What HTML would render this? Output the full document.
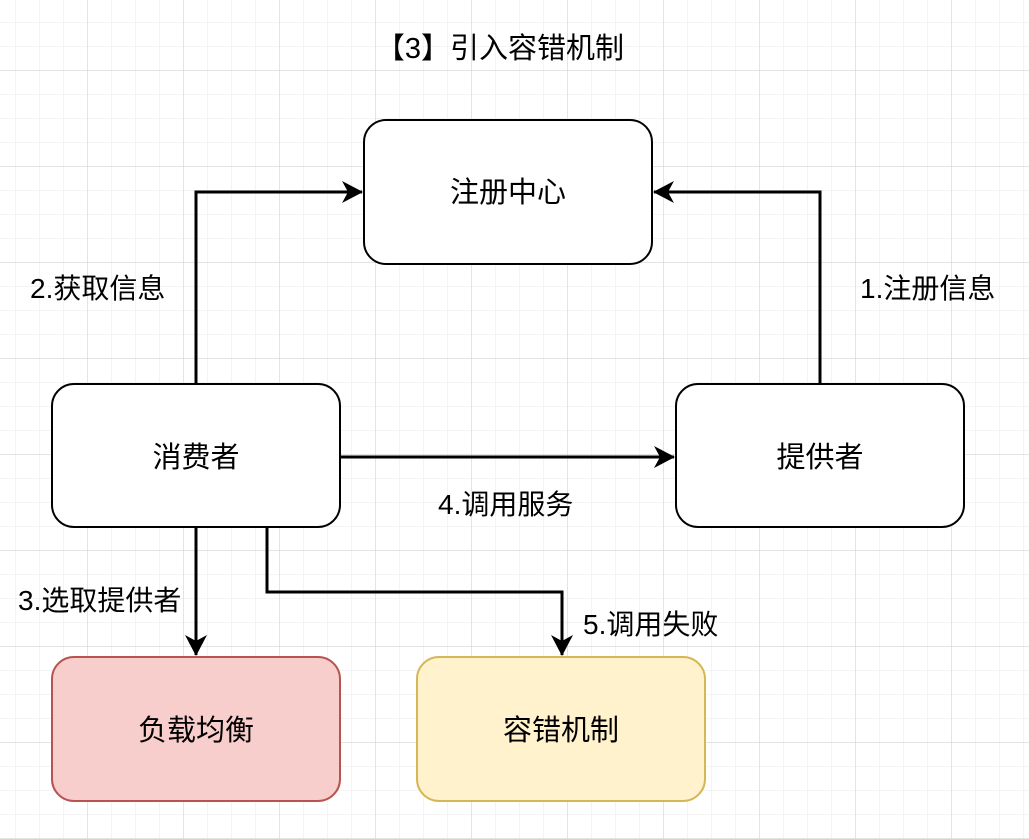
<!DOCTYPE html>
<html><head><meta charset="utf-8"><style>
body{margin:0;width:1029px;height:839px;overflow:hidden;background:#fff;font-family:"Liberation Sans","Noto Sans CJK SC",sans-serif;}
</style></head><body>
<svg width="1029" height="839" xmlns="http://www.w3.org/2000/svg" style="position:absolute;left:0;top:0">
<defs>
<pattern id="mi" width="24" height="24" patternUnits="userSpaceOnUse" x="15" y="22">
<path d="M0 0H24M0 0V24" stroke="#f0f0f0" stroke-width="1.5" fill="none"/></pattern>
<pattern id="ma" width="96" height="96" patternUnits="userSpaceOnUse" x="87" y="70">
<path d="M0 0H96M0 0V96" stroke="#d0d0d0" stroke-width="1" fill="none"/></pattern>
<marker id="ar" markerWidth="24" markerHeight="24" refX="20" refY="11" orient="auto" markerUnits="userSpaceOnUse">
<path d="M0 0L21 11L0 22L6 11Z" fill="#000"/></marker>
</defs>
<rect width="1029" height="839" fill="url(#mi)"/>
<rect width="1029" height="839" fill="url(#ma)"/>
<g fill="none" stroke="#000" stroke-width="3">
<path d="M196 384V192H362" marker-end="url(#ar)"/>
<path d="M820 384V192H654" marker-end="url(#ar)"/>
<path d="M340 457H674" marker-end="url(#ar)"/>
<path d="M196 527V655" marker-end="url(#ar)"/>
<path d="M267 527V592H562V655" marker-end="url(#ar)"/>
</g>
<g stroke-width="2">
<rect x="364" y="120" width="288" height="144" rx="22" fill="#fff" stroke="#000"/>
<rect x="52" y="384" width="288" height="143" rx="22" fill="#fff" stroke="#000"/>
<rect x="676" y="384" width="288" height="143" rx="22" fill="#fff" stroke="#000"/>
<rect x="52" y="657" width="288" height="144" rx="22" fill="#f8cecc" stroke="#b85450"/>
<rect x="417" y="657" width="288" height="144" rx="22" fill="#fff2cc" stroke="#d6b656"/>
</g>
<g font-size="29" font-family="Liberation Sans,Noto Sans CJK SC,sans-serif" fill="#000" text-anchor="middle">
<text x="508" y="202">注册中心</text>
<text x="196" y="467">消费者</text>
<text x="820" y="467">提供者</text>
<text x="196" y="740">负载均衡</text>
<text x="561" y="740">容错机制</text>
<text x="500" y="58">【3】引入容错机制</text>
</g>
<g font-size="28" font-family="Liberation Sans,Noto Sans CJK SC,sans-serif" fill="#000">
<text x="30" y="298">2.获取信息</text>
<text x="860" y="298">1.注册信息</text>
<text x="438" y="514">4.调用服务</text>
<text x="18" y="610">3.选取提供者</text>
<text x="583" y="634">5.调用失败</text>
</g>
</svg>
</body></html>
